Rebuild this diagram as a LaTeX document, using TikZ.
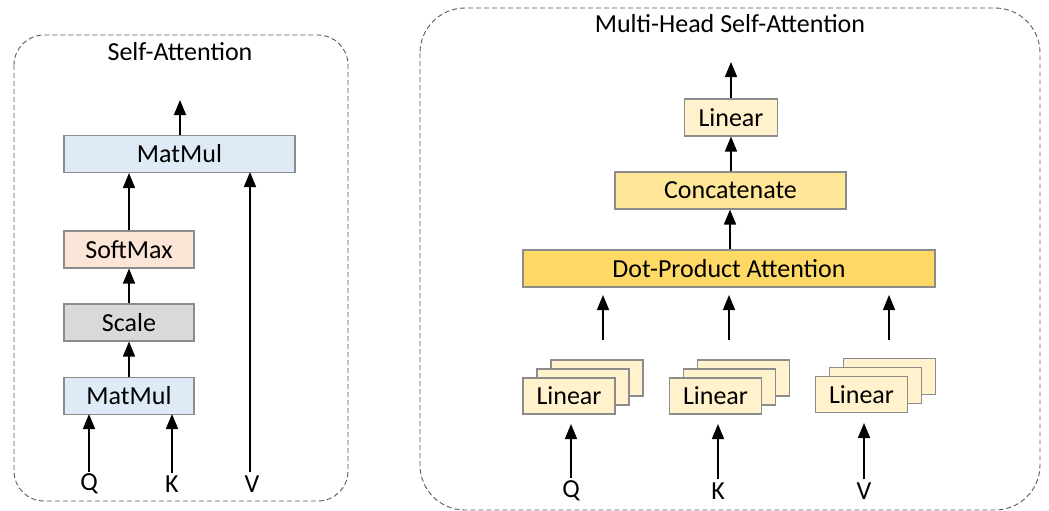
\documentclass[tikz,border=0pt]{standalone}
\usepackage{fontspec}
\setmainfont{Carlito}
\usetikzlibrary{arrows.meta}
\definecolor{mmblue}{HTML}{DEEBF7}
\definecolor{smorange}{HTML}{FBE5D6}
\definecolor{scgray}{HTML}{D9D9D9}
\definecolor{linyel}{HTML}{FFF2CC}
\definecolor{catyel}{HTML}{FFE699}
\definecolor{dpayel}{HTML}{FFD966}
\definecolor{edgegray}{HTML}{8C8C8C}
\definecolor{dashgray}{HTML}{595959}
\begin{document}
\begin{tikzpicture}[x=1pt,y=-1pt,
  txt/.style={font=\fontsize{26}{30}\selectfont},
  opbox/.style={draw=edgegray, line width=1.1pt, inner sep=0pt, txt, minimum height=37pt},
  lbl/.style={txt, inner sep=0pt, anchor=center},
  flow/.style={line width=1.6pt, -{Triangle[width=12pt,length=15pt]}},
  group/.style={draw=dashgray, line width=0.9pt, dash pattern=on 5pt off 3pt},
]
\useasboundingbox (0,0) rectangle (1049,511);

% ---------- single-head self-attention ----------
\draw[group, rounded corners=30pt] (14,35) rectangle (348,501);
\node[lbl] (satitle) at (180,52) {Self-Attention};

\node[opbox, fill=mmblue, minimum width=231pt] (mmtop) at (179.5,154) {MatMul};
\node[opbox, fill=smorange, minimum width=130pt] (soft) at (129,249.5) {SoftMax};
\node[opbox, fill=scgray, minimum width=130pt] (scale) at (129,322.5) {Scale};
\node[opbox, fill=mmblue, minimum width=130pt] (mmbot) at (129,396) {MatMul};

\node[lbl] (q1) at (89,484) {Q};
\node[lbl] (k1) at (172,484) {K};
\node[lbl] (v1) at (252,484) {V};

\coordinate (saout) at (180,100);
\draw[flow] (q1.north) ++(0,-2) -- (89,414);
\draw[flow] (k1.north) ++(0,-2) -- (172,414);
\draw[flow] (mmbot.north) -- (scale.south);
\draw[flow] (scale.north) -- (soft.south);
\draw[flow] (soft.north) -- (soft.north |- mmtop.south);
\draw[flow] (v1.north) ++(-2,-3) -- (250,172);
\draw[flow] (mmtop.north -| saout) -- (saout);

% ---------- multi-head self-attention ----------
\draw[group, rounded corners=45pt] (420,8) rectangle (1040,510);
\node[lbl] (mhtitle) at (730,24) {Multi-Head Self-Attention};

\node[opbox, fill=linyel, minimum width=93pt] (linout) at (731,117.5) {Linear};
\node[opbox, fill=catyel, minimum width=231pt] (concat) at (730.5,190.5) {Concatenate};
\node[opbox, fill=dpayel, minimum width=412pt] (dpa) at (729,268.5) {Dot-Product Attention};

\coordinate (mhout) at (731,62);
\draw[flow] (linout.north) -- (mhout);
\draw[flow] (concat.north -| linout) -- (linout.south);
\draw[flow] (dpa.north -| 730,0) -- (concat.south -| 730,0);

% stacked per-head projections
\foreach \name/\cx/\cy in {lq/569/396, lk/715.5/396, lv/861.5/394.5}{
  \node[opbox, fill=linyel, minimum width=92pt, minimum height=36pt] (\name3) at (\cx+28,\cy-18) {};
  \node[opbox, fill=linyel, minimum width=92pt, minimum height=36pt] (\name2) at (\cx+14,\cy-9) {};
  \node[opbox, fill=linyel, minimum width=92pt, minimum height=36pt] (\name1) at (\cx,\cy) {Linear};
}

% head outputs feeding the attention block
\foreach \hx/\hn in {603/a, 729/b, 889/c}{
  \coordinate (hs\hn) at (\hx,340);
  \coordinate (he\hn) at (\hx,295);
  \draw[flow] (hs\hn) -- (he\hn);
}

\node[lbl] (q2) at (571,491) {Q};
\node[lbl] (k2) at (718,491) {K};
\node[lbl] (v2) at (864,491) {V};
\coordinate (tq) at (571,424);
\coordinate (tk) at (718,424);
\coordinate (tv) at (864,423);
\draw[flow] (q2.north) ++(0,-3) -- (tq);
\draw[flow] (k2.north) ++(0,-3) -- (tk);
\draw[flow] (v2.north) ++(0,-3) -- (tv);
\end{tikzpicture}
\end{document}
